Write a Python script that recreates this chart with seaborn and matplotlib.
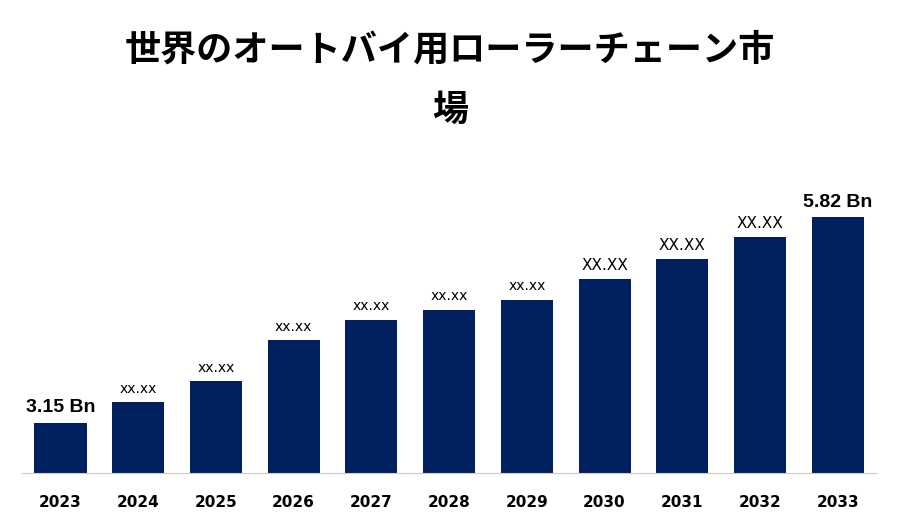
import matplotlib
matplotlib.use("Agg")
import matplotlib.pyplot as plt
import seaborn as sns
import pandas as pd

years = ["2023","2024","2025","2026","2027","2028","2029","2030","2031","2032","2033"]
values = [3.15,3.42,3.69,4.22,4.49,4.62,4.75,5.02,5.28,5.56,5.82]
labels = ["3.15 Bn","xx.xx","xx.xx","xx.xx","xx.xx","xx.xx","xx.xx","XX.XX","XX.XX","XX.XX","5.82 Bn"]

df = pd.DataFrame({"year": years, "value": values})
fig = plt.figure(figsize=(9,5.25), dpi=100)
ax = fig.add_axes([0.024, 0.1, 0.95, 0.615])
sns.barplot(data=df, x="year", y="value", color="#002060", width=0.67, saturation=1, ax=ax)
ax.set_ylim(2.5, 6.7)
ax.set_xlim(-0.5, 10.5)
for i, (v, l) in enumerate(zip(values, labels)):
    if "Bn" in l:
        fs, fw = 14, "bold"
    elif l.isupper():
        fs, fw = 11, "normal"
    else:
        fs, fw = 10, "normal"
    ax.text(i, v + 0.08, l, ha="center", va="bottom", fontsize=fs, fontweight=fw, family="DejaVu Sans" if fw=="normal" else "Liberation Sans")
for s in ["top","right","left"]:
    ax.spines[s].set_visible(False)
ax.spines["bottom"].set_color("#cccccc")
ax.set_yticks([])
ax.set_xlabel(""); ax.set_ylabel("")
ax.tick_params(axis="x", length=0, pad=16)
for t in ax.get_xticklabels():
    t.set_fontweight("bold"); t.set_fontsize(11)
fig.text(0.5, 0.905, "世界のオートバイ用ローラーチェーン市", ha="center", va="center", fontsize=26, fontweight="bold", family="Noto Sans CJK JP")
fig.text(0.5, 0.79, "場", ha="center", va="center", fontsize=26, fontweight="bold", family="Noto Sans CJK JP")
fig.savefig("out.png", dpi=100)
